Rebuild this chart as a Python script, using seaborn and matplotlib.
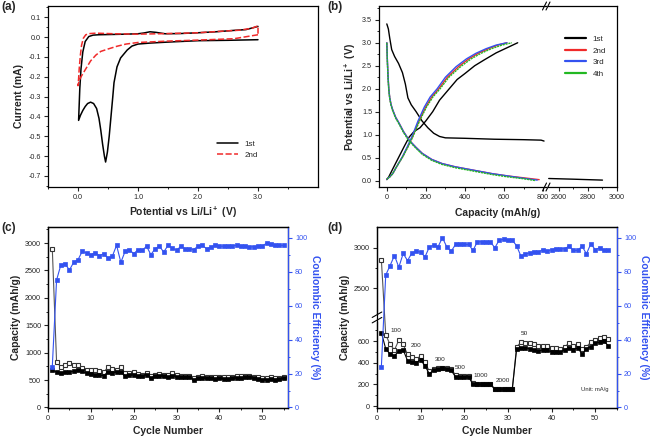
import numpy as np
import matplotlib
matplotlib.use("Agg")
import matplotlib.pyplot as plt
from matplotlib.ticker import MultipleLocator, FixedLocator
import seaborn as sns

sns.set_style("ticks")
plt.rcParams["font.family"] = ["Liberation Sans", "DejaVu Sans"]
plt.rcParams["axes.unicode_minus"] = False
plt.rcParams["mathtext.fontset"] = "custom"
plt.rcParams["mathtext.bf"] = "Liberation Sans:bold"
plt.rcParams["mathtext.rm"] = "Liberation Sans:bold"
plt.rcParams["mathtext.default"] = "bf"

BLUE = "#3352f0"
RED = "#f02a2a"
GREEN = "#22b822"
GREY = "#555555"

# ---------------- data: (a) cyclic voltammetry ----------------
cv1_v = [3.0, 2.5, 2.0, 1.5, 1.2, 1.0, 0.9, 0.82, 0.71, 0.65, 0.6, 0.58, 0.55, 0.52,
         0.49, 0.46, 0.44, 0.41, 0.38, 0.35, 0.31, 0.26, 0.21, 0.16, 0.12, 0.08, 0.04,
         0.01, 0.02, 0.03, 0.05, 0.08, 0.12, 0.18, 0.25, 0.35, 0.5, 0.8, 1.0, 1.1, 1.2,
         1.3, 1.45, 1.7, 2.0, 2.3, 2.6, 2.8, 3.0]
cv1_i = [-0.013, -0.016, -0.018, -0.025, -0.03, -0.035, -0.045, -0.065, -0.105, -0.15,
         -0.23, -0.3, -0.4, -0.5, -0.58, -0.63, -0.6, -0.54, -0.47, -0.41, -0.36, -0.335,
         -0.328, -0.335, -0.35, -0.37, -0.395, -0.42, -0.34, -0.26, -0.16, -0.075, -0.022,
         0.003, 0.01, 0.012, 0.013, 0.015, 0.017, 0.021, 0.027, 0.024, 0.017, 0.018,
         0.022, 0.027, 0.034, 0.038, 0.054]
cv2_v = [3.0, 2.6, 2.0, 1.5, 1.0, 0.8, 0.65, 0.5, 0.38, 0.3, 0.21, 0.15, 0.1, 0.05,
         0.02, 0.0, 0.01, 0.02, 0.04, 0.06, 0.09, 0.13, 0.2, 0.3, 0.6, 1.0, 1.5, 2.0,
         2.4, 2.7, 2.9, 3.0, 3.0]
cv2_i = [0.012, -0.008, -0.015, -0.02, -0.027, -0.035, -0.046, -0.06, -0.072, -0.09,
         -0.12, -0.15, -0.175, -0.2, -0.22, -0.245, -0.21, -0.16, -0.09, -0.04, -0.005,
         0.012, 0.018, 0.02, 0.017, 0.015, 0.018, 0.022, 0.03, 0.035, 0.045, 0.057, 0.012]

# ---------------- data: (b) charge/discharge profiles ----------------
d1_cap = [0, 8, 15, 25, 40, 60, 80, 95, 108, 125, 150, 180, 210, 240, 270, 300, 400,
          550, 700, 790, 805]
d1_v = [3.41, 3.3, 3.1, 2.85, 2.7, 2.55, 2.35, 2.1, 1.8, 1.65, 1.5, 1.3, 1.15, 1.03,
        0.96, 0.93, 0.92, 0.9, 0.89, 0.88, 0.86]
d1_cap_hi = [2530, 2700, 2900]
d1_v_hi = [0.045, 0.03, 0.01]
c1_cap = [0, 10, 30, 60, 90, 115, 140, 170, 200, 235, 270, 310, 360, 400, 450, 500,
          560, 620, 670]
c1_v = [0.02, 0.08, 0.25, 0.5, 0.75, 0.95, 1.07, 1.15, 1.3, 1.5, 1.75, 1.95, 2.2,
        2.33, 2.5, 2.63, 2.78, 2.9, 3.0]
d2_cap = [0, 3, 6, 10, 15, 22, 30, 45, 64, 85, 114, 150, 182, 230, 283, 350, 451, 540,
          620, 700, 780]
d2_v = [3.0, 2.6, 2.3, 2.0, 1.8, 1.65, 1.54, 1.38, 1.24, 1.07, 0.88, 0.72, 0.59, 0.46,
        0.37, 0.3, 0.22, 0.15, 0.1, 0.06, 0.02]
d3_cap = [0, 3, 6, 10, 15, 22, 30, 45, 64, 85, 114, 150, 182, 230, 283, 350, 451, 540,
          620, 700, 770]
d3_v = [3.0, 2.6, 2.3, 2.0, 1.8, 1.65, 1.54, 1.38, 1.24, 1.07, 0.88, 0.72, 0.59, 0.46,
        0.37, 0.3, 0.22, 0.15, 0.1, 0.05, 0.01]
d4_cap = [0, 3, 6, 10, 15, 22, 30, 45, 64, 85, 114, 150, 182, 230, 283, 350, 451, 540,
          620, 700, 760]
d4_v = [3.0, 2.55, 2.25, 1.97, 1.78, 1.63, 1.52, 1.36, 1.22, 1.05, 0.86, 0.7, 0.57,
        0.44, 0.35, 0.28, 0.2, 0.13, 0.08, 0.04, 0.0]
c2_cap = [0, 15, 30, 50, 81, 105, 131, 165, 199, 230, 266, 310, 367, 420, 468, 520,
          569, 615]
c2_v = [0.03, 0.08, 0.15, 0.3, 0.52, 0.72, 0.95, 1.3, 1.6, 1.82, 2.0, 2.25, 2.48, 2.65,
        2.77, 2.87, 2.95, 3.0]
c3_cap = [0, 15, 30, 50, 80, 103, 128, 160, 192, 222, 258, 300, 355, 408, 456, 508,
          560, 615]
c3_v = [0.03, 0.08, 0.15, 0.3, 0.52, 0.72, 0.95, 1.3, 1.6, 1.82, 2.0, 2.25, 2.48, 2.65,
        2.77, 2.87, 2.95, 3.0]
c4_cap = [0, 15, 30, 50, 82, 107, 133, 168, 203, 236, 273, 318, 378, 432, 482, 535,
          590, 640]
c4_v = [0.03, 0.08, 0.15, 0.3, 0.52, 0.72, 0.95, 1.3, 1.6, 1.82, 2.0, 2.25, 2.48, 2.65,
        2.77, 2.87, 2.95, 3.0]

# ---------------- data: (c) cycling ----------------
c_cycle = list(range(1, 56))
c_open = [2900, 830, 740, 770, 810, 780, 780, 720, 690, 690, 680, 670, 640, 740, 700,
          680, 740, 620, 630, 640, 610, 600, 630, 580, 600, 610, 600, 590, 620, 590,
          580, 570, 580, 540, 560, 570, 560, 560, 550, 560, 550, 550, 560, 570, 570,
          580, 580, 560, 550, 540, 530, 550, 540, 540, 550]
c_fill = [690, 640, 620, 640, 650, 660, 680, 660, 620, 610, 600, 590, 580, 650, 620,
          650, 640, 580, 590, 590, 580, 570, 600, 540, 570, 570, 580, 560, 580, 560,
          560, 550, 550, 500, 530, 540, 530, 530, 520, 530, 520, 520, 530, 540, 540,
          550, 550, 530, 520, 510, 500, 520, 510, 520, 530]
c_ce = [24, 75, 84, 84.5, 81, 85.5, 87, 92, 91, 90, 91, 89.5, 90.5, 88, 89, 95.5, 85.5,
        92, 93, 90.5, 93, 92.5, 95, 90, 93.5, 95, 91.5, 95.5, 94, 92.5, 95, 93.5, 93.5,
        93, 95, 95.5, 93.5, 94.5, 95.5, 95, 95, 95, 95.2, 95.5, 95.2, 95, 94.5, 94.7,
        95, 95, 96.8, 96, 95.5, 95.5, 95.5]

# ---------------- data: (d) rate capability ----------------
d_cycle = list(range(1, 54))
d_open = [2850, 660, 570, 520, 610, 570, 480, 450, 440, 460, 410, 320, 340, 350, 355,
          350, 340, 290, 280, 280, 280, 210, 205, 205, 205, 205, 160, 160, 160, 160,
          160, 550, 590, 580, 580, 570, 560, 555, 555, 540, 540, 530, 550, 580, 560,
          570, 530, 550, 590, 610, 630, 640, 620]
d_fill = [680, 530, 480, 465, 510, 520, 420, 410, 400, 430, 370, 300, 330, 340, 350,
          340, 330, 270, 270, 270, 270, 200, 200, 200, 200, 200, 155, 155, 155, 155,
          155, 530, 540, 540, 530, 520, 510, 520, 520, 500, 500, 500, 520, 540, 520,
          540, 480, 530, 550, 580, 590, 600, 560]
d_ce = [24, 78, 83.6, 89.5, 82.6, 90.7, 86.5, 91, 92, 91.5, 88.7, 94.5, 95.6, 94.7,
        100, 94.5, 92, 96, 96, 96, 96, 92.5, 97.6, 97.6, 97.6, 97.6, 94, 98.6, 99,
        98.6, 98.6, 95.2, 89, 90.5, 91, 91.5, 91.5, 93, 92, 93, 93.5, 93.5, 93.5, 95,
        92.5, 92.5, 95, 90.5, 96.4, 93, 94, 92.5, 92.5]
rate_labels = ["100", "200", "300", "500", "1000", "2000", "50"]
rate_x = [4.3, 9.0, 14.4, 19.1, 23.8, 28.9, 33.7]
rate_y = [704, 565, 435, 355, 287, 234, 673]

W, H = 652, 442
fig = plt.figure(figsize=(W / 100, H / 100), dpi=100)


def box(l, t, r, b):
    return [l / W, 1 - b / H, (r - l) / W, (b - t) / H]


TICK = 5.2
LAB = 7.5


def style(ax):
    ax.tick_params(which="major", direction="out", length=3, width=0.8, labelsize=TICK, pad=2)
    ax.tick_params(which="minor", direction="out", length=1.6, width=0.7)
    for s in ax.spines.values():
        s.set_linewidth(0.9)
        s.set_color("black")


def line(ax, x, y, **kw):
    sns.lineplot(x=x, y=y, ax=ax, sort=False, estimator=None, **kw)


# ---------------- (a) ----------------
axa = fig.add_axes(box(48, 6, 318, 187))
line(axa, cv1_v, cv1_i, color="black", lw=1.1, label="1st")
line(axa, cv2_v, cv2_i, color=RED, lw=1.1, ls=(0, (4, 1.6)), label="2nd")
axa.set_xlim(-0.5, 4.0)
axa.set_ylim(-0.756, 0.157)
axa.xaxis.set_major_locator(FixedLocator([0, 1, 2, 3]))
axa.xaxis.set_minor_locator(FixedLocator([-0.5, 0.5, 1.5, 2.5, 3.5]))
axa.set_xticklabels(["0.0", "1.0", "2.0", "3.0"])
axa.yaxis.set_major_locator(MultipleLocator(0.1))
axa.yaxis.set_minor_locator(MultipleLocator(0.05))
axa.set_xlabel(r"Potential vs Li/Li$^+$ (V)", fontsize=LAB, fontweight="bold", labelpad=3)
axa.set_ylabel("Current (mA)", fontsize=LAB, fontweight="bold", labelpad=3)
style(axa)
axa.legend(loc="upper left", bbox_to_anchor=(0.6, 0.3), frameon=False, fontsize=5.8,
           handlelength=2.6, labelspacing=0.5)

# ---------------- (b) ----------------
axb1 = fig.add_axes(box(379, 6, 546, 187))
axb2 = fig.add_axes(box(548, 6, 617, 187))
line(axb1, d1_cap, d1_v, color="black", lw=1.0)
line(axb1, c1_cap, c1_v, color="black", lw=1.0)
line(axb2, d1_cap_hi, d1_v_hi, color="black", lw=1.0)
line(axb1, d2_cap, d2_v, color=RED, lw=1.0)
line(axb1, c2_cap, c2_v, color=RED, lw=1.0)
line(axb1, d3_cap, d3_v, color=BLUE, lw=1.0)
line(axb1, c3_cap, c3_v, color=BLUE, lw=1.0)
line(axb1, d4_cap, d4_v, color=GREEN, lw=1.0, ls=(0, (1.5, 0.6)))
line(axb1, c4_cap, c4_v, color=GREEN, lw=1.0, ls=(0, (1.5, 0.6)))
for ax in (axb1, axb2):
    ax.set_ylim(-0.14, 3.8)
    style(ax)
axb1.set_xlim(-40, 815)
axb2.set_xlim(2525, 3000)
axb1.xaxis.set_major_locator(MultipleLocator(200))
axb1.xaxis.set_minor_locator(MultipleLocator(100))
axb2.xaxis.set_major_locator(FixedLocator([2600, 2800, 3000]))
axb2.xaxis.set_minor_locator(FixedLocator([2700, 2900]))
axb1.yaxis.set_major_locator(MultipleLocator(0.5))
axb1.yaxis.set_minor_locator(MultipleLocator(0.25))
axb1.spines["right"].set_visible(False)
axb2.spines["left"].set_visible(False)
axb2.tick_params(axis="y", which="both", left=False, labelleft=False)
axb1.set_ylabel(r"Potential vs Li/Li$^+$ (V)", fontsize=LAB, fontweight="bold", labelpad=3)
fig.text((379 + 617) / 2 / W, 1 - 213 / H, "Capacity (mAh/g)", ha="center", va="center",
         fontsize=LAB, fontweight="bold")
for yb in (6, 187):
    for dx in (-2.5, 1.0):
        fig.add_artist(plt.Line2D([(545 + dx) / W, (549 + dx) / W],
                                  [1 - (yb + 4) / H, 1 - (yb - 4) / H],
                                  color="black", lw=0.8))
hb = [plt.Line2D([], [], color=c, lw=1.6) for c in ("black", RED, BLUE, GREEN)]
fig.legend(hb, ["1st", "2nd", "3rd", "4th"], loc="upper left",
           bbox_to_anchor=(562 / W, 1 - 32 / H), frameon=False, fontsize=5.8,
           handlelength=2.6, labelspacing=0.5, borderaxespad=0)

# ---------------- (c) ----------------
axc = fig.add_axes(box(48, 227, 288, 408))
axc2 = axc.twinx()
line(axc, c_cycle, c_open, color=GREY, lw=0.8, marker="s", ms=3.4, mfc="white", mec="#333333", mew=0.8)
line(axc, c_cycle, c_fill, color="black", lw=0.8, marker="s", ms=3.4, mfc="black", mec="black", mew=0.5)
line(axc2, c_cycle, c_ce, color=BLUE, lw=0.8, marker="s", ms=3.4, mfc=BLUE, mec=BLUE, mew=0.5)
axc.set_xlim(0, 56)
axc.set_ylim(-10, 3293)
axc2.set_ylim(-0.3, 106.3)
axc.xaxis.set_major_locator(MultipleLocator(10))
axc.xaxis.set_minor_locator(MultipleLocator(5))
axc.yaxis.set_major_locator(MultipleLocator(500))
axc.yaxis.set_minor_locator(MultipleLocator(250))

# ---------------- (d) ----------------
axd = fig.add_axes(box(377, 227, 617, 408))
axd2 = axd.twinx()
knots_y = [-1000, 0, 815, 2170, 10000]
knots_d = [-108, 0, 88, 91, 91 + 7830 * 0.0812]


def fwd(y):
    return np.interp(y, knots_y, knots_d)


def inv(d):
    return np.interp(d, knots_d, knots_y)


axd.set_yscale("function", functions=(fwd, inv))
line(axd, d_cycle, d_open, color=GREY, lw=0.8, marker="s", ms=3.4, mfc="white", mec="#333333", mew=0.8)
line(axd, d_cycle, d_fill, color="black", lw=0.8, marker="s", ms=3.4, mfc="black", mec="black", mew=0.5)
line(axd2, d_cycle, d_ce, color=BLUE, lw=0.8, marker="s", ms=3.4, mfc=BLUE, mec=BLUE, mew=0.5)
axd.set_xlim(0, 55)
axd.set_ylim(-18, 3254)
axd2.set_ylim(-0.3, 106.3)
axd.xaxis.set_major_locator(MultipleLocator(10))
axd.xaxis.set_minor_locator(MultipleLocator(5))
axd.yaxis.set_major_locator(FixedLocator([0, 200, 400, 600, 2500, 3000]))
axd.yaxis.set_minor_locator(FixedLocator([100, 300, 500, 700, 2750]))
axd.yaxis.set_major_formatter(plt.FixedFormatter(["0", "200", "400", "600", "2500", "3000"]))
for t, x, y in zip(rate_labels, rate_x, rate_y):
    axd.text(x, y, t, fontsize=4.6, ha="center", va="center")
axd.text(53, 157, "Unit: mA/g", fontsize=4.2, ha="right", va="center")
# break marks on the left spine
d0, d1 = fwd(-18), fwd(3254)
yb = (fwd(815) + 1.5 - d0) / (d1 - d0)
axd.plot([0, 0], [yb - 0.02, yb + 0.01], transform=axd.transAxes, color="white",
         lw=2.5, clip_on=False, zorder=5)
axd.plot([-0.02, 0.02], [yb - 0.035, yb - 0.005], transform=axd.transAxes, color="black",
         lw=0.8, clip_on=False, zorder=6)
axd.plot([-0.02, 0.02], [yb - 0.005, yb + 0.025], transform=axd.transAxes, color="black",
         lw=0.8, clip_on=False, zorder=6)

for ax, ax2 in ((axc, axc2), (axd, axd2)):
    style(ax)
    style(ax2)
    ax.set_xlabel("Cycle Number", fontsize=LAB, fontweight="bold", labelpad=3)
    ax.set_ylabel("Capacity (mAh/g)", fontsize=LAB, fontweight="bold", labelpad=3)
    ax2.yaxis.set_major_locator(MultipleLocator(20))
    ax2.yaxis.set_minor_locator(MultipleLocator(10))
    ax2.spines["right"].set_color(BLUE)
    ax2.tick_params(axis="y", which="both", colors=BLUE, labelcolor=BLUE)
    ax2.set_ylabel("Coulombic Efficiency (%)", fontsize=LAB, fontweight="bold", color=BLUE,
                   rotation=270, labelpad=9)

# panel letters
for t, x, y in (("(a)", 1, 1), ("(b)", 327, 1), ("(c)", 1, 222), ("(d)", 327, 222)):
    fig.text(x / W, 1 - y / H, t, fontsize=8.5, fontweight="bold", ha="left", va="top")

fig.savefig("out.png", dpi=100)
